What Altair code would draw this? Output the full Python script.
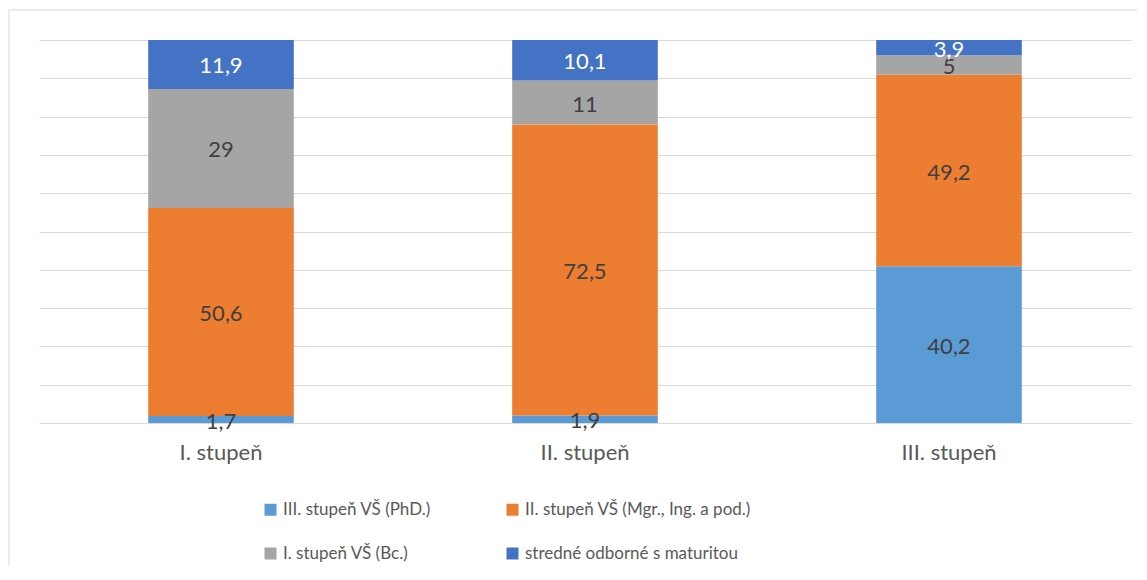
import altair as alt
import pandas as pd

categories = ["I. stupeň", "II. stupeň", "III. stupeň"]
series = [
    "III. stupeň VŠ (PhD.)",
    "II. stupeň VŠ (Mgr., Ing. a pod.)",
    "I. stupeň VŠ (Bc.)",
    "stredné odborné s maturitou",
]
phd = [1.7, 1.9, 40.2]
mgr = [50.6, 72.5, 49.2]
bc = [29, 11, 5]
sos = [11.9, 10.1, 3.9]
colors = ["#5B9BD5", "#ED7D31", "#A5A5A5", "#4472C4"]

rows = []
for s_i, (s, vals) in enumerate(zip(series, [phd, mgr, bc, sos])):
    for c, v in zip(categories, vals):
        rows.append({"cat": c, "series": s, "ord": s_i, "v": v,
                     "label": f"{v:g}".replace(".", ",")})
df = pd.DataFrame(rows)

# legend fills column by column: order the domain so rows read PhD, Mgr / Bc, SOŠ
legend_order = [0, 2, 1, 3]
dom = [series[i] for i in legend_order]
rng = [colors[i] for i in legend_order]

FONT = "Lato"
yaxis = alt.Axis(values=[i / 10 for i in range(11)], labels=False,
                 domain=False, ticks=False, grid=True,
                 gridColor="#D9D9D9", gridWidth=1)

base = alt.Chart(df).transform_stack(
    stack="v", groupby=["cat"], as_=["y0", "y1"], offset="normalize",
    sort=[alt.SortField("ord", order="ascending")]
).transform_calculate(mid="(datum.y0 + datum.y1) / 2")

xenc = alt.X("cat:N", sort=categories, title=None,
             scale=alt.Scale(paddingInner=0.6, paddingOuter=0.3),
             axis=alt.Axis(labelAngle=0, domain=False, ticks=False, tickSize=0,
                           labelPadding=19, labelFont=FONT, labelFontSize=22,
                           labelColor="#595959", grid=False))

bars = base.mark_bar().encode(
    x=xenc,
    y=alt.Y("y0:Q", scale=alt.Scale(domain=[0, 1]), title=None, axis=yaxis),
    y2="y1:Q",
    color=alt.Color("series:N",
                    scale=alt.Scale(domain=dom, range=rng),
                    legend=alt.Legend(title=None, orient="none", legendX=223, legendY=461,
                                      columns=2, symbolType="square", symbolSize=144,
                                      symbolStrokeWidth=0, labelFont=FONT, labelFontSize=17,
                                      labelColor="#595959", labelOffset=4,
                                      rowPadding=26, columnPadding=73, padding=0,
                                      labelLimit=400)),
)

texts = base.mark_text(font=FONT, fontSize=22, baseline="middle", dy=2).encode(
    x=alt.X("cat:N", sort=categories),
    y=alt.Y("mid:Q", scale=alt.Scale(domain=[0, 1]), title=None, axis=yaxis),
    text="label:N",
    color=alt.condition(alt.datum.ord == 3, alt.value("#FFFFFF"), alt.value("#404040")),
)

one = pd.DataFrame({"a": [0]})
top_rule = alt.Chart(one).mark_rule(color="#D9D9D9", strokeWidth=1).encode(
    x=alt.value(-30), x2=alt.value(1300), y=alt.value(-30))
left_rule = alt.Chart(one).mark_rule(color="#D9D9D9", strokeWidth=1).encode(
    x=alt.value(-30), y=alt.value(-30), y2=alt.value(700))

chart = alt.layer(top_rule, left_rule, bars, texts).properties(
    width=1092, height=383,
    padding={"left": 31, "top": 32, "right": 6, "bottom": 142},
    autosize=alt.AutoSizeParams(type="none"),
).configure_view(stroke=None)

chart.save("out.html", embed_options={"renderer": "svg", "actions": False})
